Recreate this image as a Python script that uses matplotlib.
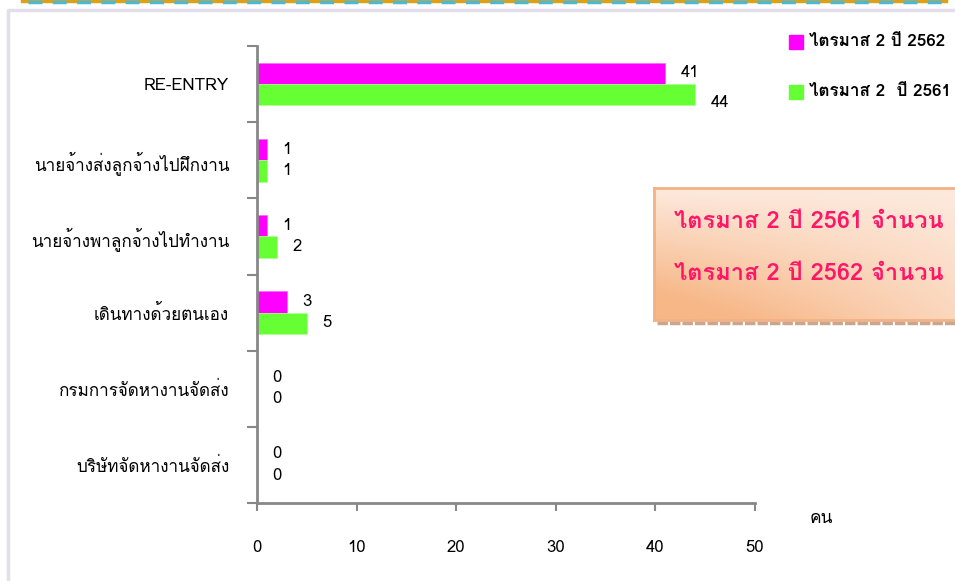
import matplotlib
matplotlib.use("Agg")
import matplotlib.pyplot as plt
import numpy as np
from matplotlib import font_manager
from matplotlib.ft2font import FT2Font
from matplotlib.patches import Rectangle
from matplotlib.lines import Line2D

categories = ["RE-ENTRY", "นายจ้างส่งลูกจ้างไปฝึกงาน", "นายจ้างพาลูกจ้างไปทำงาน",
              "เดินทางด้วยตนเอง", "กรมการจัดหางานจัดส่ง", "บริษัทจัดหางานจัดส่ง"]
q2_2562 = [41, 1, 1, 3, 0, 0]
q2_2561 = [44, 1, 2, 5, 0, 0]
series_names = ["ไตรมาส 2 ปี 2562", "ไตรมาส 2  ปี 2561"]
box_lines = ["ไตรมาส 2 ปี 2561 จำนวน", "ไตรมาส 2 ปี 2562 จำนวน"]
x_ticks = [0, 10, 20, 30, 40, 50]
unit_label = "คน"


def thai_family():
    for f in font_manager.fontManager.ttflist:
        try:
            if 0x0E01 in FT2Font(f.fname).get_charmap():
                return f.name
        except Exception:
            pass
    return "DejaVu Sans"


fam = [thai_family(), "DejaVu Sans"]
plt.rcParams["font.family"] = fam

W, H = 955, 581
fig = plt.figure(figsize=(W / 100, H / 100), dpi=100)


def fx(px):
    return px / W


def fy(py):
    return 1 - py / H


# page decoration: dashed top border and light panel frame
fig.add_artist(Line2D([fx(22), fx(946)], [fy(1), fy(1)], color="#D9A21A", lw=2.5))
fig.add_artist(Line2D([fx(28), fx(946)], [fy(2), fy(2)], color="#4BB8D8", lw=2.5,
                      linestyle=(0, (4, 3))))
fig.add_artist(Line2D([fx(8), fx(8), 1], [0, fy(10), fy(10)], color="#E4DEEC", lw=2.5))

# main chart
ax = fig.add_axes([fx(257), fy(503), fx(755) - fx(257), fy(46) - fy(503)])
n = len(categories)
y = np.arange(n)
h = 0.28
c1, c2 = "#FF00FF", "#66FF33"
ax.barh(y - h / 2, q2_2562, height=h, color=c1, edgecolor="#FF66FF", lw=0.5)
ax.barh(y + h / 2, q2_2561, height=h, color=c2, edgecolor="#B0FF90", lw=0.5)
green_nudge = [-6, 0, 0, 0, 0, 0]
for i in range(n):
    ax.annotate(str(q2_2562[i]), (q2_2562[i], y[i] - h / 2), xytext=(11, 0),
                textcoords="offset points", va="center", ha="left", fontsize=12)
    ax.annotate(str(q2_2561[i]), (q2_2561[i], y[i] + h / 2), xytext=(11, green_nudge[i]),
                textcoords="offset points", va="center", ha="left", fontsize=12)

ax.set_xlim(0, 50)
ax.set_ylim(n - 0.5, -0.5)
ax.set_xticks(x_ticks)
ax.set_xticklabels([str(t) for t in x_ticks], fontsize=12)
ax.set_yticks(np.arange(-0.5, n, 1), minor=False)
ax.set_yticklabels([])
ax.set_yticks(y, minor=True)
ax.set_yticklabels(categories, minor=True, fontsize=12.3)
ax.tick_params(axis="y", which="minor", length=0, pad=20)
ax.tick_params(axis="y", which="major", length=7, width=1.5, color="#888888", direction="out")
ax.tick_params(axis="x", length=6, width=1.5, color="#888888", direction="out", pad=21)
for s in ["top", "right"]:
    ax.spines[s].set_visible(False)
for s in ["left", "bottom"]:
    ax.spines[s].set_color("#888888")
    ax.spines[s].set_linewidth(2)
ax.set_facecolor("none")
fig.text(fx(810), fy(519), unit_label, fontsize=12.5, ha="left", va="center")

# legend
for k, (name, col) in enumerate([(series_names[0], c1), (series_names[1], c2)]):
    yy = 42 + k * 50
    fig.add_artist(Rectangle((fx(789), fy(yy + 7)), fx(14), fy(0) - fy(14),
                             color=col, transform=fig.transFigure))
    fig.text(fx(809), fy(yy), name, fontsize=12.3, ha="left", va="center", fontweight="bold")

# annotation box with gradient
bx = fig.add_axes([fx(654), fy(320), 1 - fx(654) + 0.01, fy(188) - fy(320)])
gx, gy = np.meshgrid(np.linspace(0, 1, 200), np.linspace(0, 1, 100))
t = np.clip(0.9 * (1 - gx) * gy + 0.35 * gy, 0, 1)
dark = np.array([247, 183, 135]) / 255
light = np.array([253, 234, 222]) / 255
img = light + (dark - light) * t[..., None]
bx.imshow(img, aspect="auto", extent=[0, 1, 0, 1], origin="upper")
bx.set_xticks([])
bx.set_yticks([])
for s in bx.spines.values():
    s.set_color("#F4B183")
    s.set_linewidth(2)
fig.add_artist(Line2D([fx(657), 1], [fy(323), fy(323)], color="#C9A690", lw=2.5,
                      linestyle=(0, (3, 0.6))))
for k, line in enumerate(box_lines):
    fig.text(fx(674), fy(222 + k * 51), line, fontsize=17, color="#FF1767",
             ha="left", va="center", fontweight="bold")

fig.savefig("out.png", dpi=100)
